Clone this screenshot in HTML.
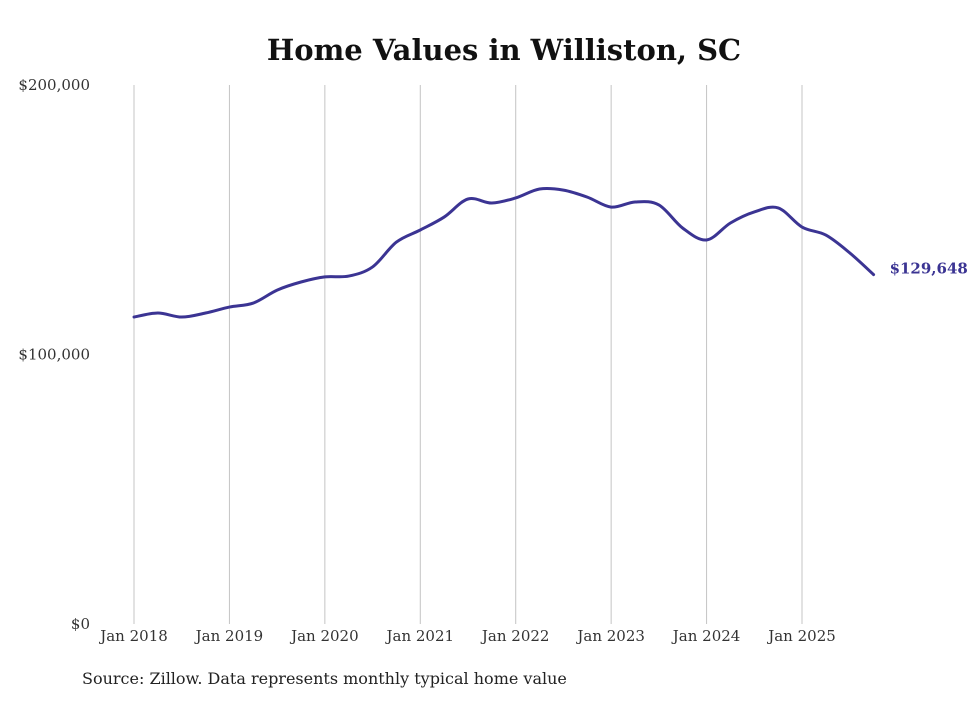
<!DOCTYPE html>
<html><head><meta charset="utf-8"><style>
body{margin:0;background:#fff;width:980px;height:699px;overflow:hidden;font-family:"DejaVu Serif","Liberation Serif",serif;}
</style></head><body>
<svg id="chart" width="980" height="699" xmlns="http://www.w3.org/2000/svg">
<text x="504" y="60" text-anchor="middle" font-size="29" font-weight="bold" fill="#111">Home Values in Williston, SC</text>
<g id="grid"></g><g id="yaxis"></g><g id="xaxis"></g><g id="series"></g>
<text x="82" y="684" font-size="16" fill="#222">Source: Zillow. Data represents monthly typical home value</text>
</svg>
<script>
const months=[0,3,6,9,12,15,18,21,24,27,30,33,36,39,42,45,48,51,54,57,60,63,66,69,72,75,78,81,84,87,90,93];
const values=[113900,115400,113900,115400,117600,119100,123900,126900,128800,129100,132500,141700,146200,151000,157700,156200,158100,161400,161000,158400,154700,156600,155500,146900,142500,148800,152900,154400,147300,144300,137700,129648];
const xTickLabels=["Jan 2018","Jan 2019","Jan 2020","Jan 2021","Jan 2022","Jan 2023","Jan 2024","Jan 2025"];
const yTicks=[0,100000,200000];
const yTickLabels=["$0","$100,000","$200,000"];
const endLabel="$129,648";
const NS="http://www.w3.org/2000/svg";
const x=m=>134+m*(802-134)/84;
const y=v=>624-v*(624-85)/200000;
function mk(t,a,p){const e=document.createElementNS(NS,t);for(const k in a)e.setAttribute(k,a[k]);p.appendChild(e);return e;}
const grid=document.getElementById('grid'),ya=document.getElementById('yaxis'),xa=document.getElementById('xaxis'),se=document.getElementById('series');
xTickLabels.forEach((l,i)=>{
 const gl=mk('line',{x1:x(i*12),x2:x(i*12),y1:85,y2:624,stroke:'#c4c4c4','stroke-width':1},grid);
 
 
 const t=mk('text',{x:x(i*12),y:641,'text-anchor':'middle','font-size':15,fill:'#333'},xa);t.textContent=l;
 
 
});
yTicks.forEach((v,i)=>{
 const t=mk('text',{x:90,y:y(v)+5,'text-anchor':'end','font-size':15,fill:'#333'},ya);t.textContent=yTickLabels[i];
 
 
});
const P=months.map((m,i)=>[x(m),y(values[i])]);
let d='M'+P[0][0]+','+P[0][1];
for(let i=0;i<P.length-1;i++){const p0=P[Math.max(0,i-1)],p1=P[i],p2=P[i+1],p3=P[Math.min(P.length-1,i+2)];
 d+=` C${p1[0]+(p2[0]-p0[0])/6},${p1[1]+(p2[1]-p0[1])/6} ${p2[0]-(p3[0]-p1[0])/6},${p2[1]-(p3[1]-p1[1])/6} ${p2[0]},${p2[1]}`;}
const path=mk('path',{d:d,fill:'none',stroke:'#3b3493','stroke-width':3,'stroke-linejoin':'round','stroke-linecap':'round'},se);


const last=P[P.length-1];
const el=mk('text',{x:last[0]+16,y:last[1]-1,'font-size':15,'font-weight':'bold',fill:'#3b3493'},se);el.textContent=endLabel;


</script>
</body></html>
